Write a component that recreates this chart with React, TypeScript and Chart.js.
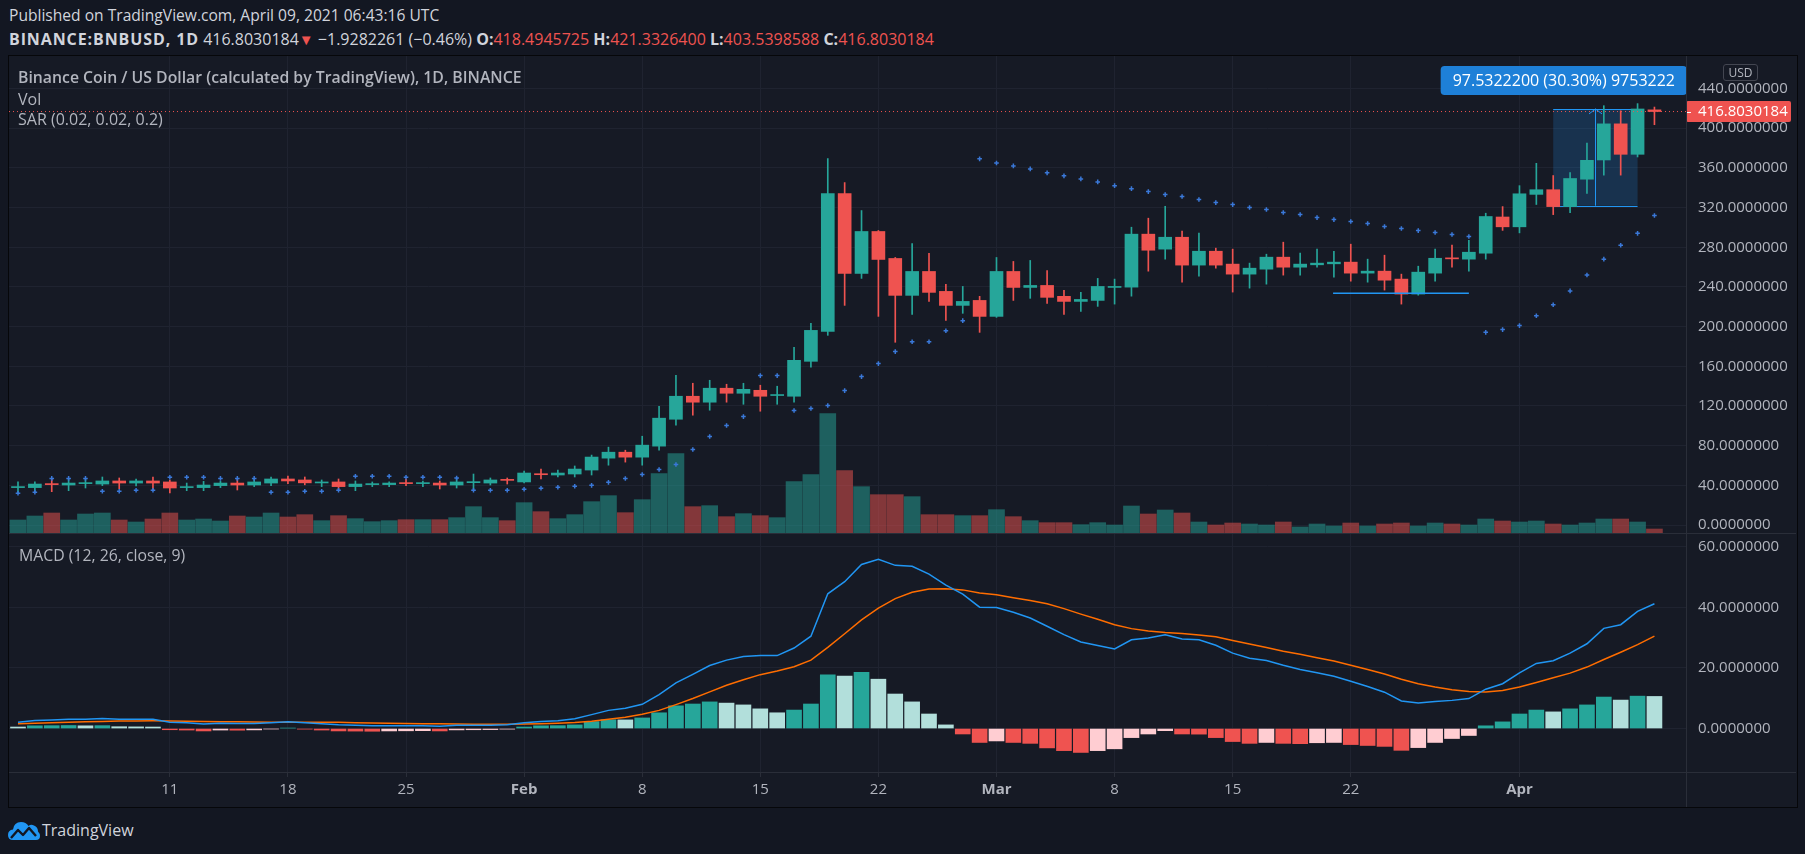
import React, { useEffect, useRef } from 'react';
import { Chart, registerables } from 'chart.js';

Chart.register(...registerables);

const FONT = '"Open Sans", "Noto Sans", sans-serif';
const TEXT = '#d1d4dc';
const AXIS_TEXT = '#b2b5be';
const GRID = '#1f2330';
const SEP = '#2a2e39';
const UP = '#26a69a';
const DOWN = '#ef5350';
const SAR_COLOR = '#3a78d8';

// ---- daily candles, BNB/USD, from 2021-01-02 ----
const opens = [
  37.7, 37.7, 41.3, 40.3, 41.7, 41.3, 44.4, 42.3, 44.4, 43.4,
  37.7, 37.7, 39.7, 42.3, 40.3, 42.3, 46.4, 45.4, 42.4, 43.4,
  38.7, 40.7, 40.7, 42.3, 41.7, 42.3, 40.3, 42.7, 42.3, 45.7,
  43.4, 51.4, 50.4, 51.4, 55.4, 67.4, 73.4, 68.4, 79.5, 106.6,
  129.8, 123.8, 137.9, 132.8, 135.8, 130.5, 129.8, 165.0, 195.2, 334.2,
  253.6, 295.9, 268.7, 231.5, 255.6, 235.5, 221.4, 226.4, 210.3, 255.6,
  239.5, 241.5, 230.5, 225.4, 226.4, 239.5, 239.8, 293.2, 278.1, 290.1,
  262.0, 276.0, 263.0, 252.9, 257.9, 270.0, 259.9, 262.3, 263.3, 265.0,
  253.9, 255.9, 247.9, 232.8, 253.9, 269.0, 268.0, 274.0, 310.5, 300.6,
  333.3, 338.0, 321.0, 348.6, 368.0, 404.4, 373.7, 418.4945725,
];
const highs = [
  43.4, 43.4, 46.7, 46.7, 46.7, 48.4, 47.4, 46.4, 48.4, 45.4,
  42.3, 44.0, 44.0, 46.4, 46.7, 48.4, 49.4, 48.4, 45.4, 46.4,
  44.4, 43.4, 43.4, 46.4, 44.4, 44.4, 47.4, 51.4, 47.4, 47.4,
  54.4, 56.4, 55.4, 59.5, 70.5, 78.5, 75.4, 89.5, 119.7, 150.9,
  142.9, 145.9, 141.9, 142.9, 140.9, 139.9, 179.1, 203.3, 369.4, 345.2,
  317.0, 296.9, 269.7, 283.8, 273.8, 242.6, 240.5, 230.5, 269.7, 265.7,
  266.7, 256.6, 236.5, 234.5, 248.6, 247.9, 300.2, 309.3, 321.3, 296.2,
  294.2, 279.1, 278.1, 264.0, 273.0, 285.1, 274.0, 278.1, 276.0, 283.1,
  268.0, 272.0, 252.9, 260.9, 278.1, 282.1, 287.1, 314.3, 321.0, 342.1,
  364.6, 352.3, 355.4, 385.0, 422.7, 417.6, 424.8, 421.33264,
];
const lows = [
  32.0, 33.3, 33.6, 34.6, 37.3, 39.7, 36.6, 39.3, 35.3, 32.3,
  34.6, 34.6, 37.7, 35.3, 38.7, 39.7, 41.7, 40.5, 38.7, 35.3,
  34.6, 38.7, 38.7, 39.7, 38.7, 36.3, 37.3, 35.6, 40.3, 41.3,
  42.3, 46.4, 48.4, 48.4, 50.4, 60.3, 63.4, 60.3, 75.4, 100.6,
  110.7, 115.7, 123.8, 121.7, 114.7, 121.7, 123.8, 159.0, 191.2, 221.4,
  248.6, 210.3, 184.2, 212.3, 225.4, 206.3, 213.4, 194.2, 209.3, 226.4,
  228.5, 223.4, 212.3, 215.4, 220.4, 222.7, 230.7, 255.9, 268.0, 244.8,
  250.9, 258.9, 234.8, 238.8, 242.8, 251.9, 251.9, 259.9, 249.9, 245.8,
  244.8, 236.8, 222.7, 231.7, 245.8, 259.9, 255.9, 268.0, 297.0, 294.5,
  323.1, 312.9, 314.9, 334.3, 352.7, 352.7, 371.0, 403.5398588,
];
const closes = [
  38.3, 41.3, 40.7, 42.3, 42.3, 44.4, 42.3, 44.4, 42.3, 37.3,
  38.3, 40.3, 42.3, 40.3, 43.4, 46.4, 44.4, 42.5, 43.0, 38.7,
  41.3, 41.3, 42.3, 41.7, 42.3, 40.3, 43.4, 43.4, 45.4, 45.0,
  52.4, 50.7, 52.4, 56.4, 68.5, 73.4, 68.4, 80.5, 107.7, 129.8,
  123.8, 137.9, 132.8, 136.8, 129.8, 131.1, 166.0, 196.2, 334.2, 253.6,
  295.9, 267.7, 231.5, 255.6, 234.5, 221.4, 225.4, 210.3, 255.6, 239.5,
  241.5, 229.5, 225.4, 227.4, 240.5, 240.5, 293.2, 277.0, 290.1, 262.0,
  276.0, 262.0, 252.9, 258.9, 270.0, 259.9, 263.0, 264.0, 265.0, 253.9,
  255.9, 246.8, 232.8, 254.9, 268.9, 268.3, 275.0, 311.0, 300.6, 333.9,
  338.0, 321.0, 349.3, 367.6, 404.4, 373.7, 419.4, 416.8030184,
];
const volumes = [
  39, 51, 60, 39, 57, 60, 39, 33, 42, 60,
  39, 42, 36, 51, 48, 60, 48, 55, 37, 52,
  43, 34, 37, 40, 40, 40, 46, 79, 46, 37,
  91, 64, 43, 55, 94, 112, 61, 100, 178, 238,
  79, 82, 49, 58, 52, 46, 154, 175, 358, 187,
  139, 115, 115, 109, 55, 55, 52, 52, 70, 49,
  37, 31, 31, 25, 31, 24, 81, 57, 69, 60,
  33, 24, 30, 27, 24, 33, 18, 27, 21, 30,
  21, 27, 30, 21, 30, 27, 24, 42, 36, 33,
  36, 27, 24, 30, 42, 42, 33, 12,
];
const sarValues = [
  32.0, 33.0, 47.0, 47.0, 47.0, 34.0, 34.0, 35.0, 35.0, 48.1,
  48.1, 48.1, 47.0, 47.0, 47.0, 33.0, 33.0, 34.0, 34.0, 35.0,
  49.1, 49.1, 49.1, 48.1, 48.1, 48.1, 47.4, 35.0, 35.0, 35.0,
  36.0, 37.0, 38.0, 39.0, 40.0, 43.0, 46.9, 50.9, 56.0, 61.0,
  76.1, 89.2, 100.3, 109.3, 150.6, 150.6, 115.4, 117.4, 120.4, 135.5,
  149.6, 162.7, 174.8, 184.8, 184.8, 195.9, 206.0, 369.1, 365.0, 362.0,
  359.0, 355.0, 352.0, 348.9, 345.9, 342.1, 339.1, 336.1, 333.1, 331.1,
  328.1, 325.0, 323.0, 320.0, 318.0, 315.0, 313.0, 309.9, 307.9, 305.9,
  303.9, 300.9, 298.9, 296.8, 294.8, 292.8, 290.8, 194.2, 197.0, 201.0,
  211.0, 222.0, 236.0, 252.0, 268.0, 282.0, 294.0, 312.0,
];
// ---- MACD (12, 26, close, 9) ----
const macdLine = [
  2.1, 2.65, 2.85, 3.05, 3.1, 3.3, 3.05, 3.05, 3.05, 2.1,
  1.9, 1.5, 1.75, 1.65, 1.7, 1.95, 2.25, 1.9, 1.6, 1.25,
  1.1, 0.95, 0.95, 0.95, 0.9, 0.75, 1.05, 1.05, 1.1, 1.25,
  1.9, 2.3, 2.6, 3.2, 4.6, 6.0, 6.7, 8.0, 11.2, 15.1,
  17.9, 20.8, 22.6, 23.8, 24.1, 24.1, 26.6, 30.5, 44.5, 48.5,
  54.2, 55.9, 53.9, 53.6, 51.0, 47.4, 44.4, 40.1, 40.0, 38.4,
  36.5, 33.8, 31.0, 28.6, 27.4, 26.3, 29.3, 29.9, 31.0, 29.6,
  29.3, 27.5, 24.9, 23.2, 22.5, 20.9, 19.5, 18.4, 17.3, 15.6,
  13.9, 12.0, 9.1, 8.4, 8.9, 9.3, 9.9, 13.0, 14.8, 18.4,
  21.5, 22.4, 24.9, 28.0, 33.1, 34.3, 38.7, 41.2,
];
const signalLine = [
  1.6, 1.75, 1.9, 2.05, 2.2, 2.35, 2.45, 2.5, 2.55, 2.5,
  2.4, 2.3, 2.25, 2.2, 2.15, 2.1, 2.1, 2.1, 2.1, 2.05,
  1.95, 1.85, 1.75, 1.7, 1.6, 1.55, 1.5, 1.45, 1.45, 1.45,
  1.5, 1.6, 1.75, 2.0, 2.4, 3.1, 3.7, 4.7, 6.0, 7.9,
  9.9, 12.1, 14.3, 16.1, 17.8, 19.0, 20.4, 22.6, 26.8, 31.3,
  35.9, 39.8, 42.9, 45.0, 46.1, 46.2, 45.8, 44.8, 44.2, 43.2,
  42.3, 41.2, 39.6, 37.8, 36.1, 34.3, 33.0, 32.2, 31.7, 31.4,
  30.9, 30.3, 29.1, 27.9, 26.8, 25.5, 24.5, 23.4, 22.3, 20.9,
  19.5, 18.0, 16.3, 14.8, 13.7, 12.8, 12.2, 12.1, 12.6, 13.7,
  15.2, 16.8, 18.3, 20.3, 22.8, 25.2, 27.7, 30.5,
];
const histValues = [
  0.5, 0.9, 0.95, 1.0, 0.9, 0.95, 0.6, 0.55, 0.5, -0.4,
  -0.5, -0.8, -0.5, -0.55, -0.45, -0.15, 0.15, -0.2, -0.5, -0.8,
  -0.85, -0.9, -0.8, -0.75, -0.7, -0.8, -0.45, -0.4, -0.35, -0.2,
  0.5, 0.9, 0.95, 1.2, 2.3, 2.9, 2.85, 3.5, 5.2, 7.5,
  8.1, 8.8, 8.4, 7.8, 6.5, 5.2, 6.1, 8.1, 17.7, 17.3,
  18.6, 16.3, 11.4, 8.8, 4.8, 1.2, -1.8, -4.6, -4.1, -4.6,
  -4.9, -6.4, -7.3, -7.9, -7.3, -6.7, -3.0, -1.8, -0.7, -1.8,
  -1.85, -3.0, -4.3, -4.9, -4.6, -4.9, -5.0, -4.7, -4.6, -5.3,
  -5.6, -5.9, -7.2, -6.3, -4.6, -3.3, -2.3, 0.9, 2.2, 4.8,
  6.1, 5.5, 6.5, 7.8, 10.4, 9.4, 10.7, 10.6,
];

// ---- axes ----
const firstDayUTC = Date.UTC(2021, 0, 2);
const dayKeys = opens.map((_, i) => new Date(firstDayUTC + i * 86400000).toISOString().slice(0, 10));
const xTickDays = ['2021-01-11', '2021-01-18', '2021-01-25', '2021-02-01', '2021-02-08', '2021-02-15', '2021-02-22', '2021-03-01', '2021-03-08', '2021-03-15', '2021-03-22', '2021-04-01'];
const xTickLabels = ['11', '18', '25', 'Feb', '8', '15', '22', 'Mar', '8', '15', '22', 'Apr'];
const monthNames = ['Feb', 'Mar', 'Apr'];
const xTickIndex = xTickDays.map((d) => dayKeys.indexOf(d));
const priceTicks = [0, 40, 80, 120, 160, 200, 240, 280, 320, 360, 400, 440];
const macdTicks = [0, 20, 40, 60];

// ---- drawings (price / day coordinates) ----
const hLineDays = ['2021-03-21', '2021-03-29'];
const hLineOffsets = [-0.05, 0.0];
const hLinePrice = 233.6;
const measureDays = ['2021-04-03', '2021-04-08'];
const measureLow = 321.89;
const measureHigh = 419.42;
const measureLabel = '97.5322200 (30.30%) 9753222';

// ---- visible window ----
const X_MIN = -0.5335;
const X_MAX = 98.93;
const PRICE_MIN = -8.06;
const PRICE_MAX = 472.8;
const VOL_MAX = 1431;
const MACD_MIN = -14.36;
const MACD_MAX = 64.26;

const zeroPad = (s: any) => {
  s.paddingTop = 0; s.paddingBottom = 0; s.paddingLeft = 0; s.paddingRight = 0;
};

const candleUp = opens.map((o, i) => closes[i] >= o);
const candleColors = candleUp.map((u) => (u ? UP : DOWN));
const volColors = candleUp.map((u) => (u ? 'rgba(38,166,154,0.5)' : 'rgba(239,83,80,0.5)'));
const histColors = histValues.map((v, i) => {
  const prev = i > 0 ? histValues[i - 1] : v;
  if (v >= 0) return v > prev ? '#26a69a' : '#b2dfdb';
  return v < prev ? '#ef5350' : '#ffcdd2';
});

function rr(ctx: CanvasRenderingContext2D, x: number, y: number, w: number, h: number, r: number) {
  ctx.beginPath();
  ctx.moveTo(x + r, y);
  ctx.lineTo(x + w - r, y);
  ctx.quadraticCurveTo(x + w, y, x + w, y + r);
  ctx.lineTo(x + w, y + h - r);
  ctx.quadraticCurveTo(x + w, y + h, x + w - r, y + h);
  ctx.lineTo(x + r, y + h);
  ctx.quadraticCurveTo(x, y + h, x, y + h - r);
  ctx.lineTo(x, y + r);
  ctx.quadraticCurveTo(x, y, x + r, y);
  ctx.closePath();
}

const measureBoxPlugin = {
  id: 'measureBox',
  beforeDatasetsDraw(chart: any) {
    const { ctx, chartArea: a, scales } = chart;
    const xs = scales.x, ys = scales.y;
    const i0 = dayKeys.indexOf(measureDays[0]);
    const i1 = dayKeys.indexOf(measureDays[1]);
    const x0 = xs.getPixelForValue(i0), x1 = xs.getPixelForValue(i1);
    const yT = ys.getPixelForValue(measureHigh), yB = ys.getPixelForValue(measureLow);
    ctx.save();
    ctx.beginPath(); ctx.rect(a.left, a.top, a.right - a.left, a.bottom - a.top); ctx.clip();
    ctx.fillStyle = 'rgba(33,150,243,0.2)';
    ctx.fillRect(x0, yT, x1 - x0, yB - yT);
    ctx.strokeStyle = '#2196f3';
    ctx.lineWidth = 1;
    ctx.beginPath();
    ctx.moveTo(x0, Math.round(yT) + 0.5); ctx.lineTo(x1, Math.round(yT) + 0.5);
    ctx.moveTo(x0, Math.round(yB) + 0.5); ctx.lineTo(x1, Math.round(yB) + 0.5);
    const cx = Math.round((x0 + x1) / 2) + 0.5;
    ctx.moveTo(cx, yB); ctx.lineTo(cx, yT);
    ctx.moveTo(cx - 6.5, yT + 5); ctx.lineTo(cx, yT); ctx.lineTo(cx + 6.5, yT + 5);
    ctx.stroke();
    ctx.restore();
  },
  afterDatasetsDraw(chart: any) {
    const { ctx, chartArea: a, scales } = chart;
    const xs = scales.x, ys = scales.y;
    const i0 = dayKeys.indexOf(measureDays[0]);
    const i1 = dayKeys.indexOf(measureDays[1]);
    const cx = (xs.getPixelForValue(i0) + xs.getPixelForValue(i1)) / 2;
    const yT = ys.getPixelForValue(measureHigh);
    ctx.save();
    ctx.beginPath(); ctx.rect(a.left, a.top, a.right - a.left, a.bottom - a.top); ctx.clip();
    ctx.font = `16px ${FONT}`;
    const tw = ctx.measureText(measureLabel).width;
    const w = tw + 24, h = 29;
    const bx = Math.min(cx - w / 2, a.right - w);
    const by = yT - 14 - h;
    ctx.fillStyle = '#1e80d8';
    rr(ctx, bx, by, w, h, 4);
    ctx.fill();
    ctx.fillStyle = '#ffffff';
    ctx.textAlign = 'left';
    ctx.textBaseline = 'middle';
    ctx.fillText(measureLabel, bx + 12, by + h / 2 + 0.5);
    ctx.restore();
  },
  afterDraw(chart: any) {
    const { ctx, chartArea: a, scales } = chart;
    const last = closes[closes.length - 1];
    const y = scales.y.getPixelForValue(last);
    ctx.save();
    ctx.fillStyle = DOWN;
    rr(ctx, a.right - 1, y - 10.5, 105, 21, 2);
    ctx.fill();
    ctx.strokeStyle = '#ffffff';
    ctx.lineWidth = 1;
    ctx.beginPath();
    ctx.moveTo(a.right - 1, Math.round(y) + 0.5); ctx.lineTo(a.right + 4, Math.round(y) + 0.5);
    ctx.stroke();
    ctx.fillStyle = '#ffffff';
    ctx.font = `15px ${FONT}`;
    ctx.textAlign = 'left';
    ctx.textBaseline = 'middle';
    ctx.fillText(last.toFixed(7), a.right + 11, y + 0.5);
    ctx.restore();
  },
};

function tickFont(ctx: any) {
  const v = ctx.tick ? ctx.tick.value : null;
  const k = xTickIndex.indexOf(v);
  const isMonth = k >= 0 && monthNames.includes(xTickLabels[k]);
  return { family: FONT, size: 15, weight: isMonth ? 'bold' : 'normal' };
}

export default function App() {
  const mainRef = useRef<HTMLCanvasElement>(null);
  const macdRef = useRef<HTMLCanvasElement>(null);

  useEffect(() => {
    if (!mainRef.current || !macdRef.current) return;
    const idx = opens.map((_, i) => i);
    const last = closes[closes.length - 1];
    const h0 = dayKeys.indexOf(hLineDays[0]) + hLineOffsets[0];
    const h1 = dayKeys.indexOf(hLineDays[1]) + hLineOffsets[1];

    const main = new Chart(mainRef.current, {
      type: 'bar',
      data: {
        datasets: [
          {
            type: 'line',
            label: 'SAR',
            data: idx.map((i) => ({ x: i, y: sarValues[i] })),
            showLine: false,
            pointStyle: 'cross',
            pointRadius: 2.3,
            pointBorderWidth: 1.5,
            pointBorderColor: SAR_COLOR,
            pointBackgroundColor: SAR_COLOR,
            borderColor: SAR_COLOR,
            order: 0,
          } as any,
          {
            type: 'line',
            label: 'last',
            data: [{ x: X_MIN, y: last }, { x: X_MAX, y: last }],
            borderColor: DOWN,
            borderWidth: 1,
            borderDash: [1, 3],
            pointRadius: 0,
            order: 1,
          } as any,
          {
            type: 'line',
            label: 'hline',
            data: [{ x: h0, y: hLinePrice }, { x: h1, y: hLinePrice }],
            borderColor: '#2196f3',
            borderWidth: 1.5,
            pointRadius: 0,
            order: 1,
          } as any,
          {
            type: 'bar',
            label: 'body',
            data: idx.map((i) => ({ x: i, y: [opens[i], closes[i]] })),
            backgroundColor: candleColors,
            barThickness: 13,
            grouped: false,
            minBarLength: 1,
            order: 2,
          } as any,
          {
            type: 'bar',
            label: 'wick',
            data: idx.map((i) => ({ x: i, y: [lows[i], highs[i]] })),
            backgroundColor: candleColors,
            barThickness: 1,
            grouped: false,
            order: 3,
          } as any,
          {
            type: 'bar',
            label: 'vol',
            data: idx.map((i) => ({ x: i, y: volumes[i] })),
            backgroundColor: volColors,
            barThickness: 16,
            grouped: false,
            yAxisID: 'yVol',
            order: 4,
          } as any,
        ],
      },
      options: {
        responsive: false,
        animation: false,
        devicePixelRatio: 1,
        events: [],
        layout: { padding: 0, autoPadding: false },
        plugins: { legend: { display: false }, tooltip: { enabled: false } },
        scales: {
          x: {
            type: 'linear',
            min: X_MIN,
            max: X_MAX,
            offset: false,
            grid: { color: GRID, drawTicks: false, offset: false },
            border: { display: false },
            ticks: { display: false },
            afterBuildTicks: (s: any) => { s.ticks = xTickIndex.map((v) => ({ value: v })); },
            afterFit: (s: any) => { s.height = 0; zeroPad(s); },
          },
          y: {
            type: 'linear',
            position: 'right',
            min: PRICE_MIN,
            max: PRICE_MAX,
            grid: { color: GRID, drawTicks: false },
            border: { display: false },
            ticks: {
              color: AXIS_TEXT,
              font: { family: FONT, size: 15 },
              padding: 11,
              callback: (v: any) => Number(v).toFixed(7),
            },
            afterBuildTicks: (s: any) => { s.ticks = priceTicks.map((v) => ({ value: v })); },
            afterFit: (s: any) => { s.width = 109; zeroPad(s); },
          },
          yVol: {
            type: 'linear',
            display: false,
            position: 'left',
            min: 0,
            max: VOL_MAX,
          },
        },
      } as any,
      plugins: [measureBoxPlugin],
    });

    const macd = new Chart(macdRef.current, {
      type: 'bar',
      data: {
        datasets: [
          {
            type: 'line',
            label: 'MACD',
            data: idx.map((i) => ({ x: i, y: macdLine[i] })),
            borderColor: '#2196f3',
            borderWidth: 1.5,
            pointRadius: 0,
            order: 0,
          } as any,
          {
            type: 'line',
            label: 'Signal',
            data: idx.map((i) => ({ x: i, y: signalLine[i] })),
            borderColor: '#ff6d00',
            borderWidth: 1.5,
            pointRadius: 0,
            order: 1,
          } as any,
          {
            type: 'bar',
            label: 'Histogram',
            data: idx.map((i) => ({ x: i, y: histValues[i] })),
            backgroundColor: histColors,
            barThickness: 15,
            grouped: false,
            order: 2,
          } as any,
        ],
      },
      options: {
        responsive: false,
        animation: false,
        devicePixelRatio: 1,
        events: [],
        layout: { padding: 0, autoPadding: false },
        plugins: { legend: { display: false }, tooltip: { enabled: false } },
        scales: {
          x: {
            type: 'linear',
            position: 'bottom',
            min: X_MIN,
            max: X_MAX,
            offset: false,
            grid: { color: GRID, drawTicks: true, tickLength: 5, tickColor: SEP, offset: false },
            border: { display: false },
            ticks: {
              autoSkip: false,
              maxRotation: 0,
              minRotation: 0,
              padding: 4,
              color: AXIS_TEXT,
              font: tickFont,
              callback: (v: any) => {
                const k = xTickIndex.indexOf(v);
                return k >= 0 ? xTickLabels[k] : '';
              },
            },
            afterBuildTicks: (s: any) => { s.ticks = xTickIndex.map((v) => ({ value: v })); },
            afterFit: (s: any) => { s.height = 35; zeroPad(s); },
          },
          y: {
            type: 'linear',
            position: 'right',
            min: MACD_MIN,
            max: MACD_MAX,
            grid: { color: GRID, drawTicks: false },
            border: { display: false },
            ticks: {
              color: AXIS_TEXT,
              font: { family: FONT, size: 15 },
              padding: 11,
              callback: (v: any) => Number(v).toFixed(7),
            },
            afterBuildTicks: (s: any) => { s.ticks = macdTicks.map((v) => ({ value: v })); },
            afterFit: (s: any) => { s.width = 109; zeroPad(s); },
          },
        },
      } as any,
    });

    return () => {
      main.destroy();
      macd.destroy();
    };
  }, []);

  const abs = (l: number, t: number, extra: any = {}) => ({ position: 'absolute' as const, left: l, top: t, ...extra });
  const red = { color: DOWN };

  return (
    <div style={{ position: 'fixed', left: 0, top: 0, width: 1805, height: 854, background: '#131722', overflow: 'hidden', fontFamily: FONT, color: TEXT }}>
      <div style={abs(9, 5, { fontSize: 15.6, lineHeight: '21px', whiteSpace: 'nowrap' })}>
        Published on TradingView.com, April 09, 2021 06:43:16 UTC
      </div>
      <div style={abs(9, 28.5, { fontSize: 16, lineHeight: '21px', whiteSpace: 'nowrap' })}>
        <b style={{ letterSpacing: '0.9px' }}>BINANCE:BNBUSD, 1D</b> 416.8030184<span style={{ ...red, fontSize: 15 }}>▼</span> −1.9282261 (−0.46%){' '}
        <b>O:</b><span style={red}>418.4945725</span> <b>H:</b><span style={red}>421.3326400</span>{' '}
        <b>L:</b><span style={red}>403.5398588</span> <b>C:</b><span style={red}>416.8030184</span>
      </div>

      <div style={abs(8, 55, { width: 1788, height: 751, background: '#161a25', border: '1px solid #06070a' })} />

      <canvas ref={mainRef} width={1787} height={477} style={abs(9, 56, { width: 1787, height: 477 })} />
      <canvas ref={macdRef} width={1787} height={273} style={abs(9, 534, { width: 1787, height: 273 })} />

      <div style={abs(1686, 56, { width: 1, height: 751, background: SEP })} />
      <div style={abs(9, 533, { width: 1787, height: 1, background: SEP })} />
      <div style={abs(9, 772, { width: 1787, height: 1, background: SEP })} />

      <div style={abs(18, 67, { fontSize: 15.8, lineHeight: '20px', color: AXIS_TEXT, fontWeight: 600, whiteSpace: 'nowrap' })}>
        Binance Coin / US Dollar (calculated by TradingView), 1D, BINANCE
      </div>
      <div style={abs(18, 88.5, { fontSize: 16, lineHeight: '20px', color: AXIS_TEXT, whiteSpace: 'nowrap' })}>Vol</div>
      <div style={abs(18, 108.5, { fontSize: 16, lineHeight: '20px', color: AXIS_TEXT, whiteSpace: 'nowrap' })}>SAR (0.02, 0.02, 0.2)</div>
      <div style={abs(19, 545, { fontSize: 15.8, lineHeight: '20px', color: AXIS_TEXT, whiteSpace: 'nowrap' })}>MACD (12, 26, close, 9)</div>

      <div style={abs(1723, 64, { width: 33, height: 15, border: '1px solid #434651', borderRadius: 3, fontSize: 12, lineHeight: '15px', textAlign: 'center', color: AXIS_TEXT, background: '#161a25' })}>USD</div>

      <div style={abs(8, 819, { display: 'flex', alignItems: 'center' })}>
        <svg width="32" height="22" viewBox="0 0 32 22">
          <path d="M5 21 Q0 21 0 16 Q0 11 5 10.5 Q6 3 13 3 Q18 3 20.5 7 Q23 5 26 6.5 Q30 8 30 12.5 Q32 14.5 32 17 Q32 21 28 21 Z" fill="#2196f3" />
          <path d="M3 19 L10 11 L15 16 L21 9 L28 17" stroke="#131722" strokeWidth="2.4" fill="none" strokeLinejoin="round" />
        </svg>
        <span style={{ fontSize: 16, marginLeft: 2, color: TEXT }}>TradingView</span>
      </div>
    </div>
  );
}
